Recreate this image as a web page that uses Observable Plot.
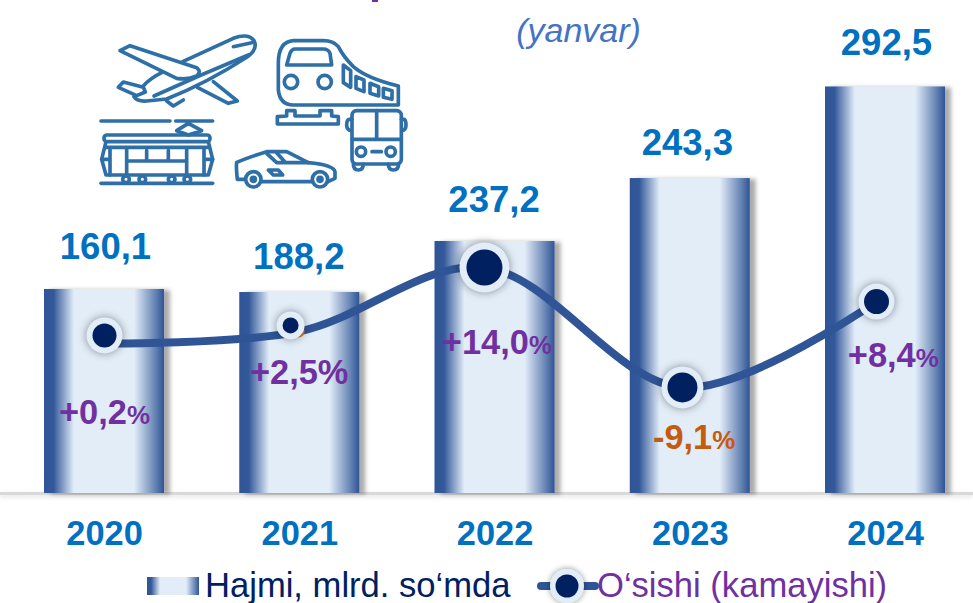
<!DOCTYPE html>
<html><head><meta charset="utf-8">
<script src="https://cdn.jsdelivr.net/npm/d3@7"></script>
<script src="https://cdn.jsdelivr.net/npm/@observablehq/plot@0.6"></script>
<style>
html,body{margin:0;padding:0;background:#fff;width:973px;height:603px;overflow:hidden;font-family:"Liberation Sans",Arial,sans-serif}
#chart{position:absolute;left:0;top:0}
#icons{position:absolute;left:0;top:0;pointer-events:none}
#legend{position:absolute;left:0;top:565px;width:973px;height:38px;font-size:34.6px;line-height:34px;white-space:nowrap}
#legend span{position:absolute;top:3px}
#legend svg{position:absolute;top:0}
</style></head><body>
<div id="chart"></div>
<svg id="icons" width="450" height="200" viewBox="0 0 1350 600" fill="none" stroke="#2e6fa7" stroke-width="11" stroke-linejoin="round" stroke-linecap="round">
  <path d="M1116 0h18v6h-18z" fill="#7030a0" stroke="none"/>
  <!-- plane -->
  <path d="M548 185L700 115Q745 98 762 122Q775 148 740 172Q620 250 500 297L440 303Q410 305 402 290"/>
  <path d="M390 137L590 203Q606 215 590 228Q565 240 530 235L360 152Z"/>
  <path d="M485 218Q450 235 430 258M355 262L370 246L430 262L436 276L410 287Z"/>
  <path d="M462 288Q600 225 745 165M700 140L755 128"/>
  <path d="M592 262L685 310L712 303L640 245M500 303L520 318L550 300"/>
  <!-- train -->
  <path d="M880 122Q835 125 835 190L835 270Q840 315 880 315L1195 315L1195 258Q1100 235 1060 200Q1030 170 1015 140Q1000 122 970 122Z"/>
  <path d="M860 195L995 195L990 160Q985 147 970 147L885 147Q875 147 870 160Z"/>
  <circle cx="873" cy="246" r="20"/><circle cx="974" cy="246" r="20"/>
  <path d="M1030 195L1052 212L1052 262L1030 248Z M1068 230L1092 240L1092 275L1068 265Z M1110 250L1136 260L1136 288L1110 280Z M1150 265L1176 272L1176 298L1150 292Z"/>
  <path d="M832 372L832 350L860 348L860 332L885 332L885 348L960 348L960 332L995 332L995 348L1015 350L1015 372Z"/>
  <!-- bus -->
  <rect x="1056" y="332" width="148" height="160" rx="14"/>
  <path d="M1130 332V418M1056 418H1204M1116 455H1144"/>
  <circle cx="1083" cy="455" r="14"/><circle cx="1172" cy="455" r="14"/>
  <path d="M1056 358H1048Q1040 360 1040 375Q1040 390 1054 392M1204 358H1212Q1218 360 1218 375Q1218 390 1206 392"/>
  <path d="M1060 492Q1060 510 1075 510Q1090 510 1090 492M1165 492Q1165 510 1180 510Q1196 510 1196 492"/>
  <!-- tram -->
  <path d="M303 363H510M527 363H638M530 392L565 370L605 392L565 405Z"/>
  <rect x="312" y="405" width="318" height="20" rx="9"/>
  <path d="M318 425L305 478L318 525H625L638 478L625 425"/>
  <path d="M318 442H625M330 442V525M380 442V525M612 442V525M560 442V525M440 452V480M505 452V480M385 483H560M305 478H330M612 478H638"/>
  <path d="M303 550H638"/>
  <circle cx="378" cy="538" r="10" fill="#fff"/><circle cx="427" cy="538" r="10" fill="#fff"/><circle cx="515" cy="538" r="10" fill="#fff"/><circle cx="562" cy="538" r="10" fill="#fff"/>
  <!-- car -->
  <path d="M735 538H712Q708 500 710 487Q745 472 800 455H860L925 488Q1000 495 1005 515V535L984 545M785 545H935"/>
  <path d="M800 460L830 488H925M830 458L855 486M805 510H835L848 525H820Z"/>
  <circle cx="760" cy="538" r="23" fill="#fff"/><circle cx="960" cy="538" r="23" fill="#fff"/>
  <circle cx="760" cy="538" r="6" fill="#2e6fa7"/><circle cx="960" cy="538" r="6" fill="#2e6fa7"/>
</svg>
<div id="legend">
  <svg style="left:147px" width="52" height="38"><rect x="0" y="12" width="52" height="18" fill="url(#barGrad)"/></svg>
  <span id="leg1" style="left:205px;color:#002060">Hajmi, mlrd. so‘mda</span>
  <svg style="left:530px;overflow:visible" width="70" height="38">
    <defs><filter id="glow" x="-50%" y="-50%" width="200%" height="200%"><feDropShadow dx="0" dy="0" stdDeviation="3" flood-color="#000" flood-opacity=".45"/></filter></defs>
    <path d="M11 21H65" stroke="#2f5597" stroke-width="8" stroke-linecap="round"/>
    <circle cx="37" cy="21" r="17" fill="#e2edf8" filter="url(#glow)"/><circle cx="37" cy="21" r="11.5" fill="#002060"/>
  </svg>
  <span id="leg2" style="left:597px;color:#7030a0">O‘sishi (kamayishi)</span>
</div>
<script>
const years = [2020, 2021, 2022, 2023, 2024];
const volumes = ["160,1", "188,2", "237,2", "243,3", "292,5"];
const barHeight = [146.8, 144.6, 181.3, 226.6, 292.5];
const volumeLabelLevel = [177, 169.8, 210.8, 251.8, 323.7];
const volumeLabelYear = [2020.005, 2020.995, 2021.995, 2022.985, 2024.005];
const growth = ["+0,2%", "+2,5%", "+14,0%", "-9,1%", "+8,4%"];
const growthLevel = [113.7, 120.9, 162.6, 76.3, 138.1];
const growthYear = [2020, 2020.953, 2021.946, 2022.96, 2023.954];
const lineLevel = [107.9, 116.5, 162.6, 76.3, 138.1];
const lineYear = [2020, 2020.994, 2021.946, 2022.96, 2023.954];
const growthLabelLevel = [57.6, 87, 108.6, 39.6, 98.6];
const growthLabelYear = [2020, 2020.997, 2022.01, 2023.02, 2024.04];
const dotOuter = [18, 14, 25, 21, 18];
const dotInner = [12, 8, 18, 15, 12.5];
const subtitle = "(yanvar)";

const rows = years.map((year, i) => ({
  year, volume: volumes[i], bar: barHeight[i], vLevel: volumeLabelLevel[i], vYear: volumeLabelYear[i],
  growth: growth[i], gLevel: growthLevel[i], gYear: growthYear[i], lineLevel: lineLevel[i], lineYear: lineYear[i],
  lLevel: growthLabelLevel[i], lYear: growthLabelYear[i], outer: dotOuter[i], inner: dotInner[i]
}));
const halfBar = 0.3073;
const font = "Liberation Sans";

const plot = Plot.plot({
  width: 973, height: 565,
  marginTop: 0, marginBottom: 72, marginLeft: 0, marginRight: 0,
  style: {fontFamily: font, background: "transparent", overflow: "visible"},
  x: {domain: [2020, 2024], range: [104, 885], axis: null},
  y: {domain: [0, 354.7], axis: null},
  r: {type: "identity"},
  marks: [
    Plot.ruleY([0], {stroke: "#d9d9d9", strokeWidth: 3, imageFilter: "drop-shadow(0 2px 2px rgba(0,0,0,.12))"}),
    Plot.rect(rows, {x1: d => d.year - halfBar, x2: d => d.year + halfBar, y1: 0, y2: "bar",
      fill: "url(#barGrad)", imageFilter: "drop-shadow(6px 1px 2px rgba(0,0,0,.33))"}),
    Plot.line(rows, {x: "lineYear", y: "lineLevel", curve: "catmull-rom", stroke: "#2f5597", strokeWidth: 8, strokeLinecap: "round"}),
    Plot.dot(rows.slice(1, 2), {x: "lineYear", y: "lineLevel", r: 6, fill: "#d87a2a"}),
    Plot.dot(rows, {x: "gYear", y: "gLevel", r: "outer", fill: "#e2edf8", imageFilter: "drop-shadow(0 0 4px rgba(0,0,0,.4))"}),
    Plot.dot(rows, {x: "gYear", y: "gLevel", r: "inner", fill: "#002060"}),
    Plot.text(rows, {x: "vYear", y: "vLevel", text: "volume", fill: "#0070c0", fontSize: 36.5, fontWeight: "bold"}),
    Plot.text(rows, {x: "lYear", y: "lLevel", text: "growth", fontSize: 34.4, fontWeight: "bold",
      fill: d => d.growth.startsWith("-") ? "#c55a11" : "#7030a0"}),
    Plot.axisX(years, {anchor: "bottom", tickSize: 0, tickPadding: 27, tickFormat: "d", label: null,
      fill: "#0070c0", fontSize: 34.4, fontWeight: "bold"}),
    Plot.text([subtitle], {frameAnchor: "top", dx: 91.5, dy: 31, lineAnchor: "middle", text: d => d, fill: "#4472c4", fontSize: 34, fontStyle: "italic"})
  ]
});

// bar gradient shared by the bars and the legend swatch
const defs = d3.select(plot).insert("defs", ":first-child");
const grad = defs.append("linearGradient").attr("id", "barGrad");
[[0, "#2f5597"], [0.08, "#34599a"], [0.25, "#e2edf8"], [0.75, "#e2edf8"], [0.92, "#6a87b6"], [1, "#2f5597"]]
  .forEach(([o, c]) => grad.append("stop").attr("offset", o).attr("stop-color", c));

// smaller percent sign, except for the 2021 label
d3.select(plot).selectAll("text")
  .filter(function() { return /%$/.test(this.textContent) && this.textContent !== "+2,5%"; })
  .each(function() {
    const t = this.textContent;
    const el = d3.select(this).text(t.slice(0, -1));
    el.append("tspan").style("font-size", "26px").text("%");
  });
document.getElementById("chart").append(plot);
</script>
</body></html>
